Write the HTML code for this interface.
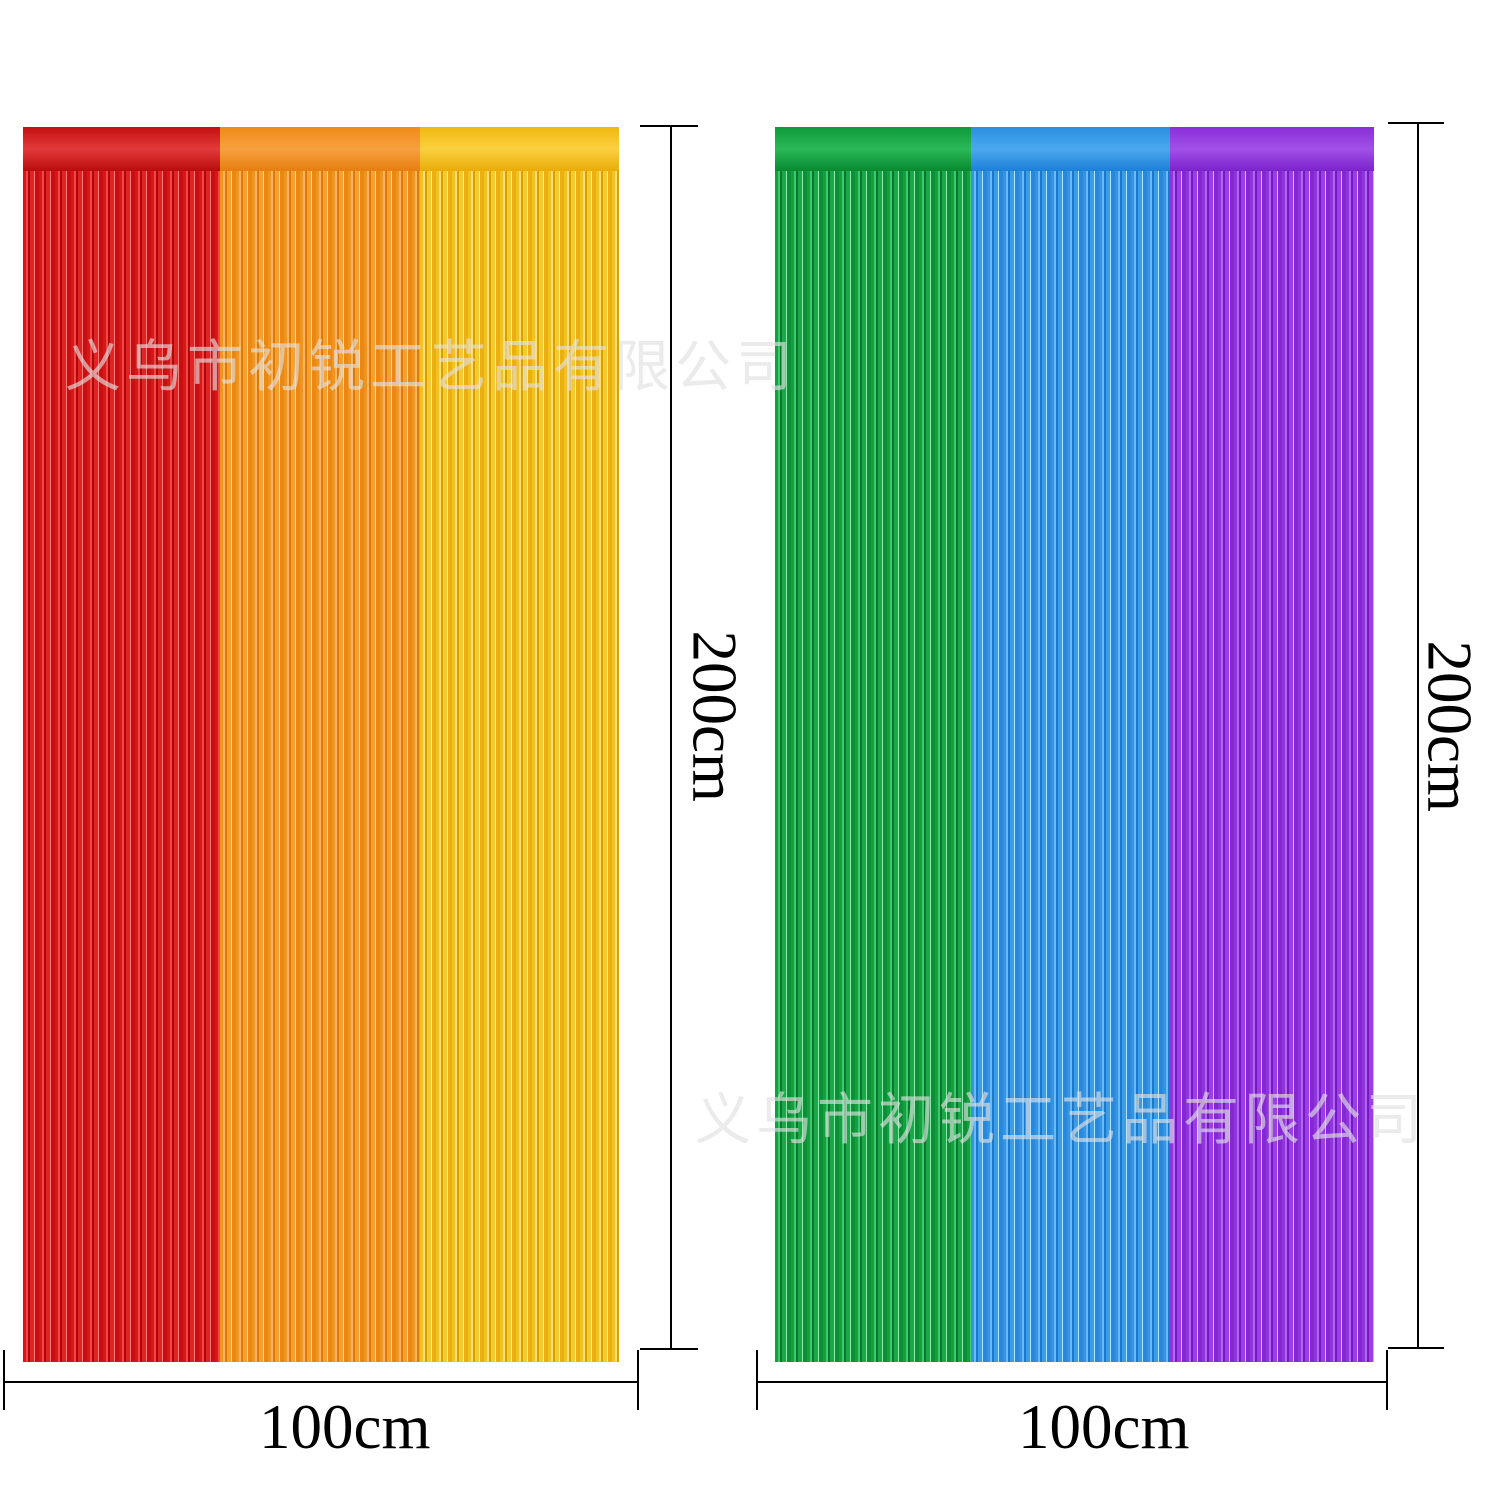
<!DOCTYPE html>
<html><head><meta charset="utf-8"><style>
html,body{margin:0;padding:0;background:#fff;}
body{width:1493px;height:1500px;position:relative;overflow:hidden;font-family:"Liberation Serif","Noto Serif CJK SC",serif;}
.strip{position:absolute;top:127px;height:1235px;}
.band{position:absolute;left:0;right:0;top:0;height:44px;}
.fr{position:absolute;left:0;right:0;top:44px;bottom:0;}
.ln{position:absolute;background:#000;}
.txt{position:absolute;font-size:63px;color:#000;line-height:1;white-space:nowrap;}
.wm{position:absolute;font-family:"Liberation Sans","Noto Sans CJK SC",sans-serif;font-size:56px;color:rgba(225,225,225,0.65);letter-spacing:5px;white-space:nowrap;}
</style></head><body>

<div class="strip" style="left:23px;width:197px;">
 <div class="band" style="background:linear-gradient(#c41010,#e23a3a 50%,#b80c0c)"></div>
 <div class="fr" style="background:repeating-linear-gradient(90deg,#d81818 0 3px,#f04848 3px 5px,#b00808 5px 7px,#e02424 7px 11px,#ff7a7a 11px 12px,#c81010 12px 16px)"></div>
</div>
<div class="strip" style="left:220px;width:200px;">
 <div class="band" style="background:linear-gradient(#ef8a18,#f7a040 50%,#e67e10)"></div>
 <div class="fr" style="background:repeating-linear-gradient(90deg,#f29320 0 3px,#ffb860 3px 5px,#de7a08 5px 7px,#f5a030 7px 11px,#ffd8a0 11px 12px,#ea8814 12px 16px)"></div>
</div>
<div class="strip" style="left:420px;width:199px;">
 <div class="band" style="background:linear-gradient(#f0b810,#fbd040 50%,#e8ac08)"></div>
 <div class="fr" style="background:repeating-linear-gradient(90deg,#f5c020 0 3px,#ffe070 3px 5px,#d8a000 5px 7px,#f8c830 7px 11px,#fff0b0 11px 12px,#e8b010 12px 16px)"></div>
</div>

<div class="strip" style="left:775px;width:196px;">
 <div class="band" style="background:linear-gradient(#0e9a3a,#2ab858 50%,#088a30)"></div>
 <div class="fr" style="background:repeating-linear-gradient(90deg,#14a040 0 3px,#40c870 3px 5px,#067a2a 5px 7px,#1aa848 7px 11px,#90e8b0 11px 12px,#0c9036 12px 16px)"></div>
</div>
<div class="strip" style="left:971px;width:199px;">
 <div class="band" style="background:linear-gradient(#2a8ee0,#4aa8ee 50%,#1c80d8)"></div>
 <div class="fr" style="background:repeating-linear-gradient(90deg,#3294e2 0 3px,#6cbaf4 3px 5px,#1a78cc 5px 7px,#3c9ce6 7px 11px,#b8e0ff 11px 12px,#2888dc 12px 16px)"></div>
</div>
<div class="strip" style="left:1170px;width:204px;">
 <div class="band" style="background:linear-gradient(#8a2ed8,#a050e8 50%,#7c22cc)"></div>
 <div class="fr" style="background:repeating-linear-gradient(90deg,#9034dc 0 3px,#b068f0 3px 5px,#7418c4 5px 7px,#9a40e2 7px 11px,#d8b0ff 11px 12px,#8428d4 12px 16px)"></div>
</div>

<div class="wm" style="left:65px;top:322px;">义乌市初锐工艺品有限公司</div>
<div class="wm" style="left:695px;top:1075px;">义乌市初锐工艺品有限公司</div>

<div class="ln" style="left:640px;top:125px;width:58px;height:2px"></div>
<div class="ln" style="left:640px;top:1348px;width:58px;height:2px"></div>
<div class="ln" style="left:670px;top:126px;width:2px;height:1223px"></div>
<div class="ln" style="left:3px;top:1381px;width:634px;height:2px"></div>
<div class="ln" style="left:3px;top:1350px;width:2px;height:60px"></div>
<div class="ln" style="left:637px;top:1350px;width:2px;height:60px"></div>
<div class="txt" style="left:259px;top:1396px;">100cm</div>
<div class="txt" style="left:629px;top:684px;transform:rotate(90deg);transform-origin:center;width:170px;text-align:center;">200cm</div>

<div class="ln" style="left:1388px;top:122px;width:56px;height:2px"></div>
<div class="ln" style="left:1388px;top:1347px;width:56px;height:2px"></div>
<div class="ln" style="left:1417px;top:123px;width:2px;height:1225px"></div>
<div class="ln" style="left:757px;top:1381px;width:630px;height:2px"></div>
<div class="ln" style="left:756px;top:1350px;width:2px;height:60px"></div>
<div class="ln" style="left:1386px;top:1350px;width:2px;height:60px"></div>
<div class="txt" style="left:1018px;top:1396px;">100cm</div>
<div class="txt" style="left:1364px;top:694px;transform:rotate(90deg);transform-origin:center;width:170px;text-align:center;">200cm</div>

</body></html>
